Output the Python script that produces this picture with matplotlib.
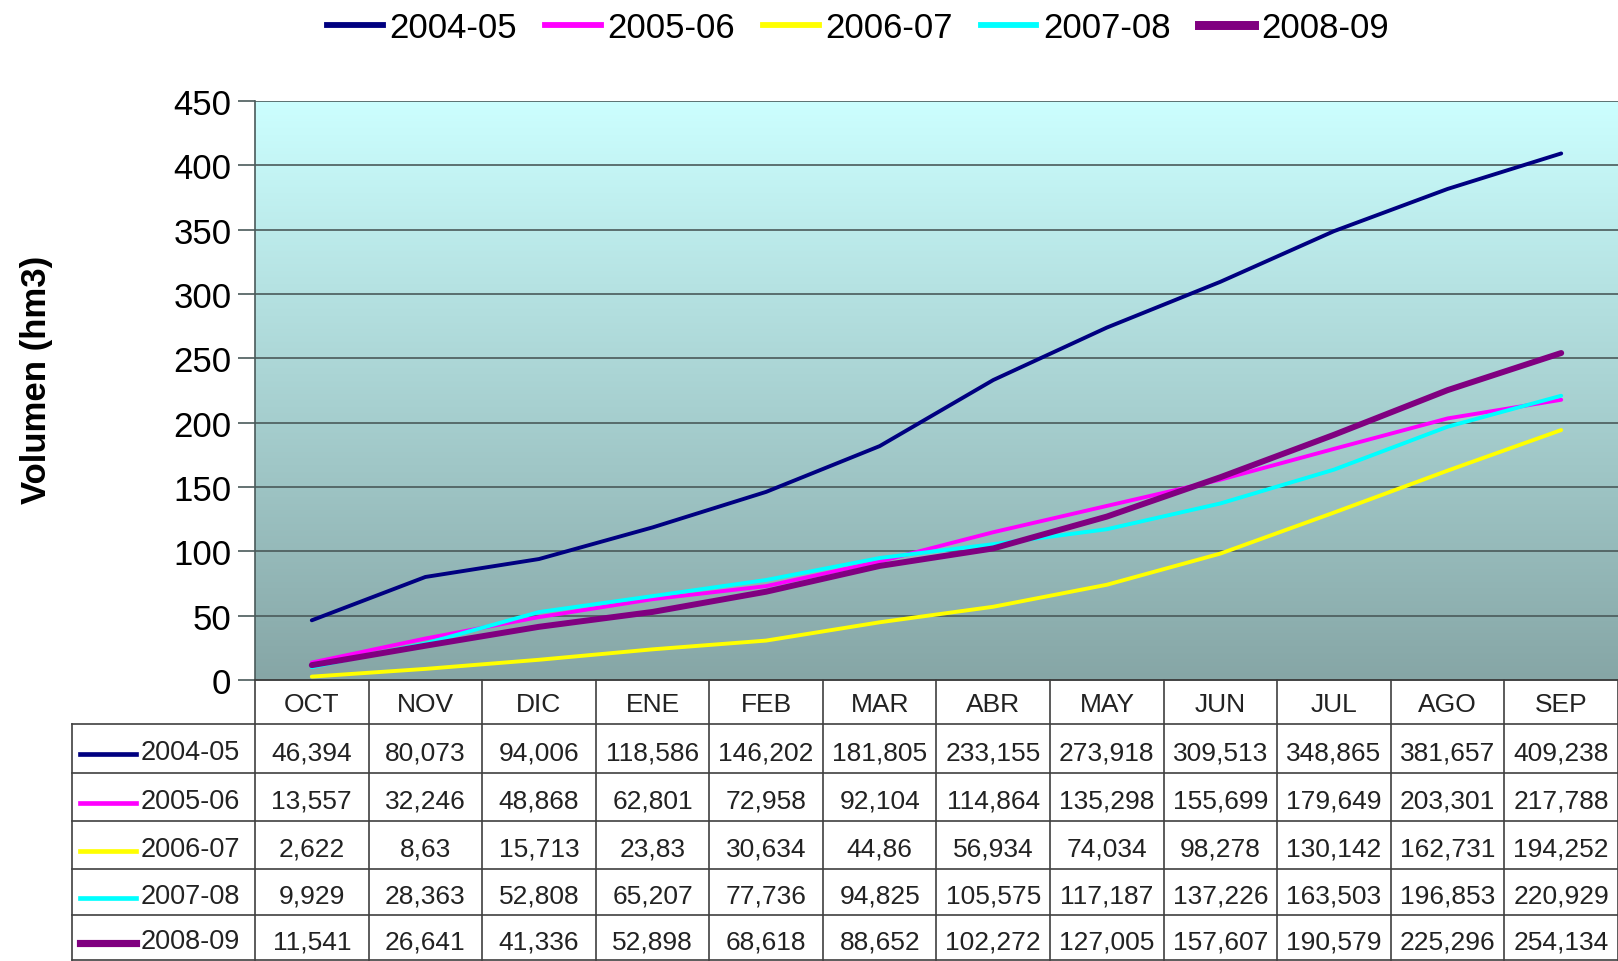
import matplotlib.pyplot as plt
import matplotlib.transforms as mtransforms
import numpy as np

plt.rcParams['font.family'] = ['Liberation Sans', 'DejaVu Sans']

# Data
months = ['OCT', 'NOV', 'DIC', 'ENE', 'FEB', 'MAR', 'ABR', 'MAY', 'JUN', 'JUL', 'AGO', 'SEP']
seasons = ['2004-05', '2005-06', '2006-07', '2007-08', '2008-09']
v_2004_05 = [46.394, 80.073, 94.006, 118.586, 146.202, 181.805, 233.155, 273.918, 309.513, 348.865, 381.657, 409.238]
v_2005_06 = [13.557, 32.246, 48.868, 62.801, 72.958, 92.104, 114.864, 135.298, 155.699, 179.649, 203.301, 217.788]
v_2006_07 = [2.622, 8.63, 15.713, 23.83, 30.634, 44.86, 56.934, 74.034, 98.278, 130.142, 162.731, 194.252]
v_2007_08 = [9.929, 28.363, 52.808, 65.207, 77.736, 94.825, 105.575, 117.187, 137.226, 163.503, 196.853, 220.929]
v_2008_09 = [11.541, 26.641, 41.336, 52.898, 68.618, 88.652, 102.272, 127.005, 157.607, 190.579, 225.296, 254.134]
series = [v_2004_05, v_2005_06, v_2006_07, v_2007_08, v_2008_09]

colors = ['#000080', '#FF00FF', '#FFFF00', '#00FFFF', '#800080']
widths = [2.8, 2.8, 2.8, 2.8, 4.3]

W, H = 1618, 962
fig = plt.figure(figsize=(W / 100, H / 100), dpi=100)

# plot area in pixels
left, right, top, bottom = 255, 1618, 102, 681
ax = fig.add_axes([left / W, 1 - bottom / H, (right - left) / W, (bottom - top) / H])

# gradient background
grad = np.linspace(0, 1, 256).reshape(-1, 1)
c_top = np.array([0xCC, 0xFF, 0xFF]) / 255
c_bot = np.array([0x86, 0xA6, 0xA6]) / 255
img = c_top[None, None, :] * (1 - grad[:, :, None]) + c_bot[None, None, :] * grad[:, :, None]
ax.imshow(img, extent=[0, 1, 0, 1], transform=ax.transAxes, aspect='auto', zorder=0)

x = np.arange(len(months))
for vals, c, lw in zip(series, colors, widths):
    ax.plot(x, vals, color=c, lw=lw, zorder=3, solid_capstyle='round')

ax.set_xlim(-0.5, len(months) - 0.5)
ax.set_ylim(0, 450)
ax.set_yticks(np.arange(0, 451, 50))
ax.set_xticks([])
ax.yaxis.grid(True, color='#4a5a5a', lw=1.2, zorder=1)
ax.set_axisbelow(True)
ax.tick_params(axis='y', labelsize=25, length=12, width=1.2, color='#4a5a5a', pad=5)
for s in ['top', 'right']:
    ax.spines[s].set_visible(False)
ax.spines['left'].set_color('#4a5a5a')
ax.spines['left'].set_linewidth(1.2)
ax.spines['bottom'].set_color('#4a5a5a')
ax.spines['bottom'].set_linewidth(1.2)

fig.text(37 / W, 1 - 380 / H, 'Volumen (hm3)', rotation=90, fontsize=25,
         fontweight='bold', ha='center', va='center')

# legend
handles = [plt.Line2D([], [], color=c, lw=lw * 1.5) for c, lw in zip(colors, widths)]
fig.legend(handles, seasons, loc='center', bbox_to_anchor=(858 / W, 1 - 29 / H),
           ncol=5, frameon=False, fontsize=25, handlelength=1.6,
           handletextpad=0.2, columnspacing=0.8)

# data table below the plot
trans = mtransforms.blended_transform_factory(ax.transData, fig.transFigure)
fy = lambda py: 1 - py / H
line_c = '#404040'
row_edges = [681, 725, 774, 822, 870, 916, 961]
tab_left = 72
shift = 4  # text sits slightly below the cell centre

# header row
fig.add_artist(plt.Line2D([left / W, 1], [fy(row_edges[0])] * 2, color=line_c, lw=1.2))
for i, m in enumerate(months):
    fig.text(i, fy((row_edges[0] + row_edges[1]) / 2 + 2), m, transform=trans,
             ha='center', va='center', fontsize=19, color='#222222')
# horizontal lines of the body
for ry in row_edges[1:]:
    fig.add_artist(plt.Line2D([tab_left / W, 1], [fy(ry)] * 2, color=line_c, lw=1.2))
# vertical lines
fig.add_artist(plt.Line2D([tab_left / W] * 2, [fy(row_edges[1]), fy(row_edges[-1])], color=line_c, lw=1.2))
for i in range(len(months) + 1):
    fig.add_artist(plt.Line2D([i - 0.5] * 2, [fy(row_edges[0]), fy(row_edges[-1])],
                              transform=trans, color=line_c, lw=1.2))

# body rows
for r, (name, vals, c, lw) in enumerate(zip(seasons, series, colors, widths)):
    yc = fy((row_edges[r + 1] + row_edges[r + 2]) / 2 + shift)
    fig.add_artist(plt.Line2D([80 / W, 136 / W], [yc - 0.002] * 2, color=c, lw=lw * 1.2))
    fig.text(141 / W, yc, name, ha='left', va='center', fontsize=19.5, color='#222222')
    for i, v in enumerate(vals):
        txt = ('%g' % v).replace('.', ',')
        fig.text(i, yc, txt, transform=trans, ha='center', va='center',
                 fontsize=19, color='#222222')

fig.savefig('out.png', dpi=100)
